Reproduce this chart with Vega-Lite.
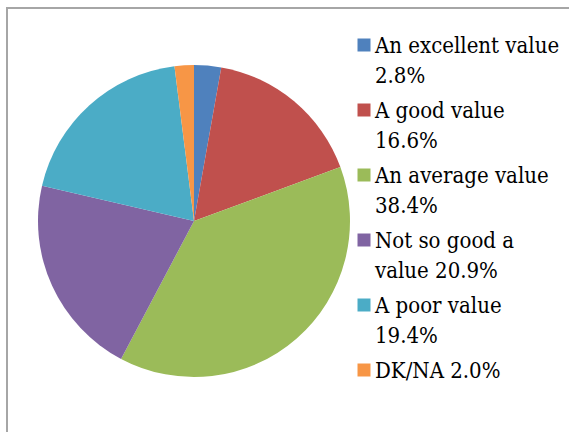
{
  "$schema": "https://vega.github.io/schema/vega-lite/v6.json",
  "autosize": {"type": "none"},
  "padding": {"left": 7, "top": 8, "right": 0, "bottom": 0},
  "width": 564,
  "height": 426,
  "background": "white",
  "view": {"stroke": "#a6a6a6", "strokeWidth": 2, "fill": "white"},
  "data": {
    "values": [
      {"order": 1, "category": "An excellent value", "label": "An excellent value|2.8%", "pct": 2.8},
      {"order": 2, "category": "A good value", "label": "A good value|16.6%", "pct": 16.6},
      {"order": 3, "category": "An average value", "label": "An average value|38.4%", "pct": 38.4},
      {"order": 4, "category": "Not so good a value", "label": "Not so good a|value 20.9%", "pct": 20.9},
      {"order": 5, "category": "A poor value", "label": "A poor value|19.4%", "pct": 19.4},
      {"order": 6, "category": "DK/NA", "label": "DK/NA 2.0%", "pct": 2.0}
    ]
  },
  "mark": {"type": "arc", "outerRadius": 156, "x": 187, "y": 213},
  "encoding": {
    "theta": {"field": "pct", "type": "quantitative", "stack": true},
    "order": {"field": "order", "type": "quantitative"},
    "color": {
      "field": "label",
      "type": "nominal",
      "sort": null,
      "scale": {"range": ["#4F81BD", "#C0504D", "#9BBB59", "#8064A2", "#4BACC6", "#F79646"]},
      "legend": {
        "title": null,
        "orient": "none",
        "legendX": 346,
        "legendY": 26,
        "symbolType": "square",
        "symbolSize": 169,
        "symbolStrokeWidth": 0,
        "symbolOpacity": 1,
        "labelFont": "DejaVu Serif Condensed, DejaVu Serif",
        "labelFontSize": 22,
        "labelColor": "#000000",
        "labelLimit": 300,
        "labelOffset": 0,
        "labelBaseline": "top",
        "rowPadding": 12,
        "labelExpr": "split(datum.label, '|')",
        "encode": {
          "labels": {"update": {"lineHeight": {"value": 30}, "dy": {"value": -9}}}
        }
      }
    }
  }
}
